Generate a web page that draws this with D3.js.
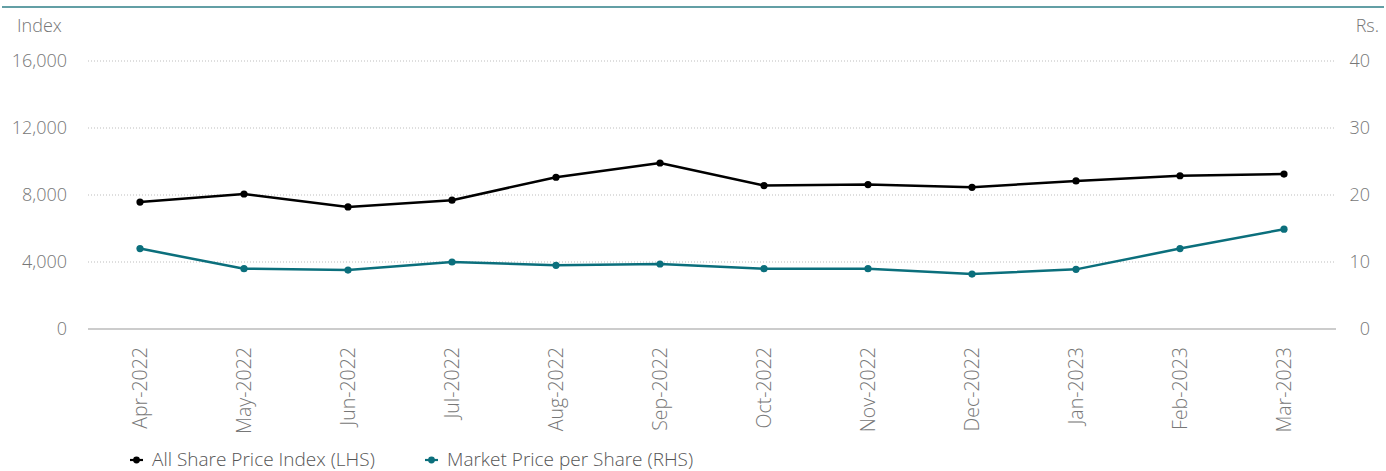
<!DOCTYPE html>
<html>
<head>
<meta charset="utf-8">
<script src="https://cdn.jsdelivr.net/npm/d3@7"></script>
<style>
  html, body { margin: 0; padding: 0; background: #fff; }
  svg { display: block; font-family: "Open Sans", "Liberation Sans", sans-serif; font-weight: 300; }
</style>
</head>
<body>
<svg id="chart" width="1386" height="471"></svg>
<script>
// Monthly series, April 2022 – March 2023
const months = ["Apr-2022", "May-2022", "Jun-2022", "Jul-2022", "Aug-2022", "Sep-2022",
                "Oct-2022", "Nov-2022", "Dec-2022", "Jan-2023", "Feb-2023", "Mar-2023"];
const aspiValues = [7580, 8060, 7290, 7690, 9060, 9910, 8560, 8620, 8460, 8840, 9150, 9250];
const mppsValues = [12.0, 9.0, 8.8, 10.0, 9.5, 9.7, 9.0, 9.0, 8.2, 8.9, 12.0, 14.9];
const leftTicks = [0, 4000, 8000, 12000, 16000];
const rightTicks = [0, 10, 20, 30, 40];
const seriesNames = ["All Share Price Index (LHS)", "Market Price per Share (RHS)"];

const svg = d3.select("#chart");
const plotLeft = 88, plotRight = 1336, plotTop = 61, plotBottom = 329;
const black = "#000000", teal = "#0b6f7c", labelGrey = "#777777";
const fontFamily = "'Open Sans', sans-serif";

// Header rule
svg.append("line").attr("x1", 2).attr("x2", 1384).attr("y1", 7).attr("y2", 7)
  .attr("stroke", "#2f7f87").attr("stroke-width", 1.5);

const x = d3.scalePoint().domain(months).range([plotLeft, plotRight]).padding(0.5);
const yL = d3.scaleLinear().domain([0, 16000]).range([plotBottom, plotTop]);
const yR = d3.scaleLinear().domain([0, 40]).range([plotBottom, plotTop]);

// Gridlines
svg.append("g").selectAll("line").data(leftTicks.filter(d => d > 0)).join("line")
  .attr("x1", plotLeft).attr("x2", plotRight)
  .attr("y1", d => yL(d)).attr("y2", d => yL(d))
  .attr("stroke", "#bdbdbd").attr("stroke-width", 1).attr("stroke-dasharray", "1,2");

// Baseline
svg.append("line").attr("x1", plotLeft).attr("x2", plotRight)
  .attr("y1", yL(0)).attr("y2", yL(0)).attr("stroke", "#9a9a9a").attr("stroke-width", 1.2);

function styleText(sel, size) {
  sel.attr("fill", labelGrey).attr("font-size", size)
    .style("font-family", fontFamily).style("font-weight", 300);
}

// Left axis
const axL = svg.append("g").attr("transform", `translate(${plotLeft},0)`)
  .call(d3.axisLeft(yL).tickValues(leftTicks).tickFormat(d3.format(",")).tickSize(0).tickPadding(21));
axL.select(".domain").remove();
styleText(axL.selectAll("text"), 18);

// Right axis
const axR = svg.append("g").attr("transform", `translate(${plotRight},0)`)
  .call(d3.axisRight(yR).tickValues(rightTicks).tickSize(0).tickPadding(0));
axR.select(".domain").remove();
axR.selectAll("text").attr("text-anchor", "end").attr("x", 34);
styleText(axR.selectAll("text"), 18);

// Axis titles
styleText(svg.append("text").attr("x", 17).attr("y", 32).text("Index"), 18);
styleText(svg.append("text").attr("x", 1379).attr("y", 32).attr("text-anchor", "end").text("Rs."), 18);

// Bottom axis (rotated month labels)
const axB = svg.append("g").attr("transform", `translate(0,${plotBottom})`)
  .call(d3.axisBottom(x).tickSize(0));
axB.select(".domain").remove();
axB.selectAll("text")
  .attr("transform", "rotate(-90)")
  .attr("text-anchor", "end")
  .attr("x", -18).attr("y", 0).attr("dy", "0.35em");
styleText(axB.selectAll("text"), 19.5);

// Series lines and markers
function drawSeries(values, yScale, color) {
  const pts = months.map((m, i) => [x(m), yScale(values[i])]);
  svg.append("path").datum(pts)
    .attr("d", d3.line())
    .attr("fill", "none").attr("stroke", color).attr("stroke-width", 2.5)
    .attr("stroke-linejoin", "round");
  svg.append("g").selectAll("circle").data(pts).join("circle")
    .attr("cx", d => d[0]).attr("cy", d => d[1]).attr("r", 3.6).attr("fill", color);
}
drawSeries(aspiValues, yL, black);
drawSeries(mppsValues, yR, teal);

// Legend
const legendItems = [
  { name: seriesNames[0], color: black, x: 130 },
  { name: seriesNames[1], color: teal, x: 425 }
];
const lg = svg.append("g").selectAll("g").data(legendItems).join("g")
  .attr("transform", d => `translate(${d.x},460)`);
lg.append("line").attr("x1", 0).attr("x2", 13).attr("y1", 0).attr("y2", 0)
  .attr("stroke", d => d.color).attr("stroke-width", 2.2);
lg.append("circle").attr("cx", 6.5).attr("cy", 0).attr("r", 3.4).attr("fill", d => d.color);
const lt = lg.append("text").attr("x", 22).attr("y", 0).attr("dy", "0.3em").text(d => d.name);
styleText(lt, 19);
lt.attr("fill", "#555");
</script>
</body>
</html>
